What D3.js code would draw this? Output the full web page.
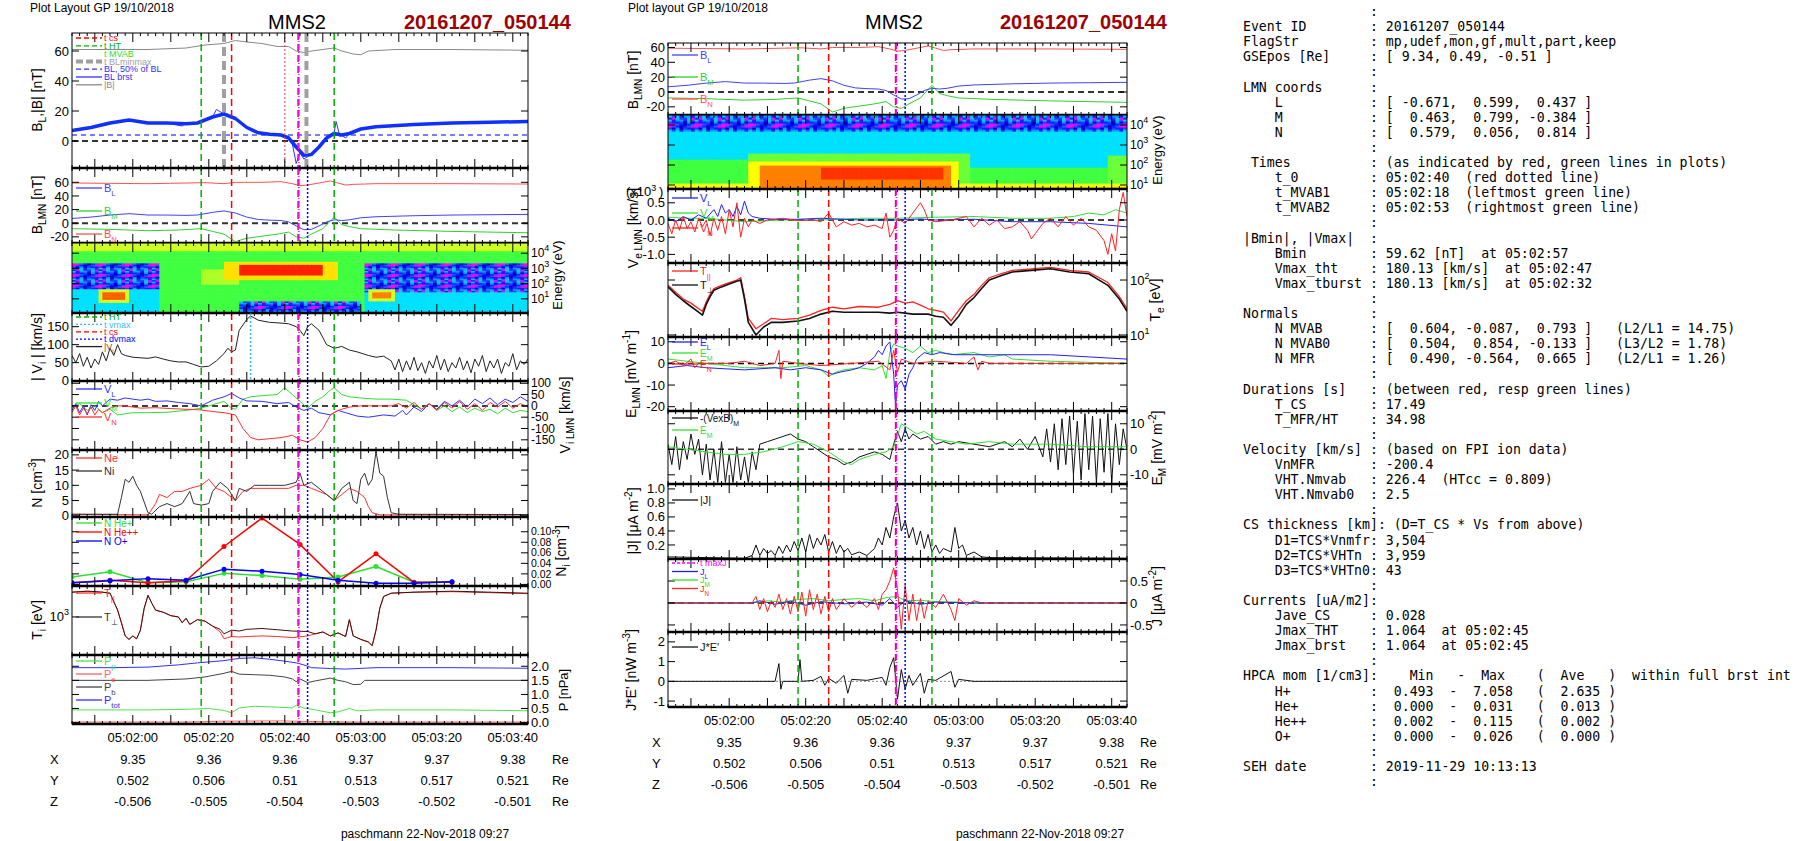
<!DOCTYPE html>
<html>
<head>
<meta charset="utf-8">
<script src="https://cdn.jsdelivr.net/npm/d3@7"></script>
<style>
  body { margin: 0; background: #fff; }
  svg text { font-family: "Liberation Sans", Arial, sans-serif; }
  .mono { font-family: "DejaVu Sans Mono", monospace; font-size: 13.2px; white-space: pre; }
</style>
</head>
<body>
<div id="chart"></div>
<script>
// ---- data (t = seconds after 05:01:44) ----
const timeTicks = [16, 36, 56, 76, 96, 116];
const timeLabels = ["05:02:00", "05:02:20", "05:02:40", "05:03:00", "05:03:20", "05:03:40"];
const posX = ["9.35", "9.36", "9.36", "9.37", "9.37", "9.38"];
const posY = ["0.502", "0.506", "0.51", "0.513", "0.517", "0.521"];
const posZ = ["-0.506", "-0.505", "-0.504", "-0.503", "-0.502", "-0.501"];

const tGreen = [34, 69], tRedDash = [42, 59.5], tRedDot = 56, tMagenta = 59.7, tBlueDot = 62, tGray = [40, 61.7], tVmax = 47;

const bL = [[0,7],[5,9],[10,12],[15,14],[20,12],[25,12],[30,11.5],[33,12],[37,16],[40,18],[43,15],[46,9],[49,5.5],[52,4.5],[55,4],[57,2],[59,-4],[61,-9.5],[63,-9],[65,-4],[67,2],[69,5],[71,4],[73,5],[76,8],[80,9.5],[90,11],[100,12],[110,12.5],[120,13]];
const bLbrst = [[0,7],[5,9],[10,12],[15,14],[20,12],[25,12],[29,10],[30,12],[33,12],[37,16],[38,21],[40,18],[43,15],[46,9],[49,5.5],[52,4.5],[55,4],[57,3],[58,-2],[59,-15],[60,-8],[61,-12],[63,-9],[65,-4],[67,3],[69,6],[69.5,13],[70.5,3],[71,4],[72,2],[73,5],[76,8],[80,9.5],[90,11],[100,12],[110,12.5],[120,13]];
const bMag = [[0,61],[10,61],[20,61],[30,62],[35,64],[40,65],[43,67],[46,66],[50,65],[54,63],[57,63],[59,60],[61,59],[63,60],[66,61],[69,62],[71,60],[74,58],[76,57.5],[78,60],[85,61],[100,61],[120,60.5]];
const bM = [[0,-8],[10,-9],[20,-11],[28,-10],[34,-8],[37,-12],[40,-16],[43,-27],[46,-22],[50,-19],[54,-16],[57,-13],[59,-20],[61,-22],[63,-16],[66,-8],[69,9],[71,-2],[73,-5],[76,-8],[85,-10],[100,-12],[120,-14]];
const bN = [[0,59],[10,58.5],[20,58],[30,59],[35,59.5],[40,58],[43,60],[50,60],[55,61],[58,58],[60,55],[62,56],[66,60],[68,62],[70,59],[72,56],[74,57],[80,58],[100,58],[120,57.5]];

const viMag = [[0,70],[1,50],[2,75],[3,40],[4,65],[5,35],[6,60],[7,45],[8,80],[9,55],[10,90],[11,70],[12,100],[13,75],[14,70],[16,65],[20,62],[22,66],[24,60],[26,55],[28,52],[30,52],[32,45],[34,38],[36,40],[38,55],[40,75],[41,90],[42,80],[43,85],[44,140],[46,170],[47,180],[49,168],[52,162],[55,160],[57,158],[59,150],[60,140],[61,125],[62,150],[63,158],[65,140],[67,100],[69,90],[71,95],[73,85],[75,80],[78,70],[80,65],[82,68],[84,55],[85,30],[86,60],[87,25],[88,55],[89,30],[90,65],[91,28],[92,50],[93,20],[94,55],[95,35],[96,70],[97,30],[98,60],[99,25],[100,50],[101,35],[102,65],[103,30],[104,55],[105,22],[106,60],[107,40],[108,70],[109,25],[110,55],[111,35],[112,60],[113,20],[114,50],[115,40],[116,75],[117,30],[118,55],[119,45],[120,60]];
const viL = [[0,-20],[1,10],[2,-30],[3,0],[4,-40],[5,5],[6,-20],[7,20],[8,0],[10,30],[12,25],[14,35],[16,30],[18,25],[20,30],[22,20],[25,22],[28,15],[31,10],[34,0],[37,25],[40,40],[42,55],[44,35],[46,22],[50,20],[54,10],[57,15],[59,-5],[61,-20],[63,-10],[65,-30],[68,-40],[70,-20],[72,-30],[75,-45],[78,-50],[82,-40],[85,-45],[87,-20],[88,-40],[90,-5],[92,-25],[94,10],[96,-15],[98,20],[100,0],[102,25],[104,-5],[106,30],[108,10],[110,35],[112,5],[114,30],[116,15],[118,40],[120,20]];
const viM = [[0,-10],[2,10],[4,-20],[6,0],[8,-30],[10,-15],[12,-40],[14,-35],[16,-30],[20,-30],[25,-28],[30,-20],[34,-10],[37,5],[40,20],[42,-10],[43,-15],[45,30],[47,40],[50,45],[54,50],[56,80],[58,50],[60,20],[62,-10],[64,20],[66,40],[68,70],[69,80],[71,50],[73,40],[76,35],[80,30],[84,30],[88,25],[90,5],[92,-15],[94,10],[96,-20],[98,0],[100,-25],[102,-5],[104,-30],[106,-10],[108,-25],[110,-15],[112,-35],[114,-10],[116,-30],[118,-20],[120,-25]];
const viN = [[0,-30],[1,0],[2,-40],[3,-10],[4,-35],[5,-5],[6,-40],[7,-15],[8,-30],[10,-10],[12,0],[14,0],[18,-10],[22,-8],[26,-12],[30,-15],[34,-18],[37,-25],[40,-30],[43,-40],[45,-100],[47,-140],[49,-150],[52,-145],[55,-140],[58,-130],[60,-150],[62,-160],[64,-140],[66,-100],[68,-40],[70,-20],[73,-5],[76,0],[80,0],[84,0],[86,10],[88,-10],[90,15],[92,-15],[94,10],[96,-20],[98,15],[100,-10],[102,20],[104,-15],[106,10],[108,-20],[110,15],[112,-5],[114,20],[116,-10],[118,10],[120,-5]];

const ni = [[0,0.5],[12,0.5],[13,6],[14,12],[15,11],[16,13],[17,10],[18,8],[20,1],[21,0.5],[23,3],[25,4],[27,3],[29,4],[31,8],[32,4],[34,3.5],[36,4],[37,8],[39,11],[41,9],[42,7],[43,5],[44,9],[46,8],[48,10],[52,10],[56,10],[59,11],[60,14],[61,10],[63,11],[65,9],[67,7],[69,5],[71,9],[73,11],[74,5],[75,4],[76,12],[77,14],[78,10],[79,12],[80,21],[81,14],[82,13],[83,6],[84,1],[86,0.5],[120,0.4]];
const ne = [[0,0.5],[20,0.3],[22,4],[23,7],[25,6],[27,8],[29,8],[31,9],[34,10],[36,12],[38,9],[40,8],[42,6],[43,5],[45,8],[47,9],[50,9],[54,9],[57,9],[59,10],[61,10],[63,9],[65,8],[67,7],[69,5],[71,7],[73,9],[75,8],[77,6],[78,3],[79,1],[81,0.3],[120,0.3]];

const ionT = [0, 10, 20, 30, 40, 50, 60, 70, 80, 90, 100];
const nHe1 = [0.014, 0.024, 0.003, 0.005, 0.021, 0.017, 0.010, 0.014, 0.034, 0.004, 0.005];
const nHe2 = [0.003, 0.008, 0.003, 0.007, 0.072, 0.126, 0.076, 0.005, 0.058, 0.004, 0.004];
const nOp  = [0.003, 0.007, 0.011, 0.008, 0.029, 0.025, 0.019, 0.008, 0.002, 0.002, 0.005];

const tiPerp = [[0,2600],[4,2700],[8,2600],[10,2500],[12,1300],[13,800],[14,480],[15,420],[16,480],[17,430],[18,600],[19,1400],[20,2300],[21,1700],[22,1300],[24,1200],[26,1050],[28,1000],[29,800],[30,950],[31,750],[33,900],[35,850],[37,700],[39,620],[40,520],[42,600],[44,580],[46,620],[50,640],[54,610],[58,580],[62,570],[64,520],[66,560],[68,480],[70,540],[72,470],[73,900],[74,480],[76,420],[78,380],[79,330],[80,600],[81,1400],[82,2200],[84,2500],[90,2600],[100,2700],[110,2600],[120,2500]];
const tiPar = [[0,2600],[4,2700],[8,2600],[10,2500],[12,1300],[13,800],[14,480],[15,420],[16,480],[17,430],[18,600],[19,1400],[20,2300],[21,1700],[22,1300],[24,1200],[26,1050],[28,1000],[29,800],[30,950],[31,750],[33,900],[35,850],[37,700],[39,560],[40,430],[42,470],[44,460],[46,470],[50,480],[54,470],[58,450],[62,480],[64,520],[66,560],[68,480],[70,540],[72,470],[73,900],[74,480],[76,420],[78,380],[79,330],[80,600],[81,1400],[82,2200],[84,2500],[90,2600],[100,2650],[110,2550],[120,2450]];

const pTot = [[0,1.95],[10,1.95],[20,1.97],[28,2.05],[33,2.12],[40,2.2],[44,2.28],[48,2.3],[52,2.25],[56,2.18],[59,2.12],[61,2.05],[63,1.95],[68,1.92],[72,1.9],[80,1.95],[100,1.95],[120,1.93]];
const pB = [[0,1.5],[10,1.5],[20,1.5],[30,1.55],[35,1.62],[40,1.75],[42,1.82],[44,1.72],[48,1.7],[52,1.68],[56,1.62],[58,1.55],[59,1.45],[60,1.55],[62,1.42],[64,1.48],[68,1.58],[70,1.5],[72,1.45],[74,1.35],[76,1.36],[77,1.5],[85,1.5],[120,1.5]];
const pP = [[0,0.45],[10,0.45],[20,0.45],[30,0.47],[36,0.5],[40,0.43],[42,0.35],[44,0.52],[48,0.58],[54,0.55],[58,0.52],[59,0.62],[61,0.52],[64,0.45],[68,0.35],[70,0.38],[73,0.5],[75,0.42],[80,0.45],[100,0.45],[120,0.42]];
const pE = [[0,0.02],[30,0.02],[40,0.05],[55,0.06],[62,0.04],[75,0.02],[120,0.02]];

const veL = [[0,0.05],[2,-0.05],[4,0.1],[6,0],[8,0.15],[10,0.05],[12,0.3],[13,0.1],[14,0.45],[15,0.2],[16,0.3],[17,0.1],[18,0.4],[19,0.15],[20,0.55],[21,0.2],[22,0.1],[24,0.05],[28,0.02],[34,0.02],[40,0.05],[50,0.0],[60,0.0],[66,0.03],[70,0.0],[80,0.02],[90,-0.05],[100,-0.05],[110,-0.1],[120,-0.2]];
const veM = [[0,0.08],[5,0.05],[10,0.05],[20,-0.05],[30,0.0],[40,0.0],[50,0.05],[60,0.05],[70,0.08],[80,0.1],[90,0.05],[100,0.05],[106,0.1],[110,0.2],[114,0.15],[117,0.3],[120,0.2]];
const veN = [[0,-0.1],[1,-0.4],[2,0.0],[3,-0.3],[4,0.1],[5,-0.25],[6,-0.05],[7,-0.35],[8,0.05],[9,-0.2],[10,0.0],[11,-0.45],[12,0.05],[13,-0.3],[14,0.1],[15,-0.4],[16,0.3],[17,-0.2],[18,0.5],[19,-0.5],[20,0.05],[21,-0.2],[22,0.0],[24,-0.1],[26,0.0],[30,0.05],[34,-0.02],[38,0.0],[40,-0.05],[42,0.2],[44,-0.2],[46,-0.05],[48,-0.15],[50,-0.1],[52,-0.2],[54,-0.15],[56,-0.25],[57,0.2],[58,-0.5],[59,-0.3],[60,0.05],[62,-0.1],[64,0.2],[65,0.35],[66,0.5],[67,0.3],[68,0.0],[70,-0.05],[74,0.0],[78,0.1],[80,-0.2],[82,0.05],[84,-0.15],[86,0.0],[88,-0.25],[90,-0.2],[92,-0.05],[94,-0.3],[95,-0.55],[96,-0.4],[98,-0.1],[100,0.05],[102,-0.2],[104,0.1],[106,-0.15],[108,0.05],[110,-0.2],[112,-0.3],[114,-0.6],[115,-1.0],[116,-0.4],[117,-0.9],[118,0.3],[119,0.8],[120,0.1]];

const tePar = [[0,80],[2,60],[4,45],[6,38],[8,30],[9,27],[10,40],[11,55],[12,70],[14,80],[16,90],[18,100],[19,110],[20,50],[21,20],[23,13],[25,16],[27,20],[30,19],[34,20],[37,23],[40,28],[43,32],[46,30],[50,33],[55,32],[58,36],[60,42],[62,38],[64,40],[66,35],[68,30],[70,28],[72,26],[74,18],[76,28],[78,42],[80,55],[82,80],[84,110],[87,130],[90,150],[95,160],[100,170],[105,150],[110,140],[115,90],[118,50],[120,30]];
const tePerp = [[0,75],[2,55],[4,42],[6,33],[8,26],[9,23],[10,36],[11,50],[12,65],[14,75],[16,85],[18,95],[19,100],[20,45],[21,17],[23,10],[25,14],[27,17],[30,17],[34,18],[37,20],[40,24],[43,27],[46,26],[50,26],[55,26],[58,25],[60,26],[62,25],[64,24],[66,24],[68,24],[70,22],[72,21],[74,15],[76,22],[78,36],[80,48],[82,70],[84,100],[87,120],[90,140],[95,150],[100,160],[105,140],[110,130],[115,80],[118,45],[120,27]];

const eL = [[0,-2],[5,-1],[10,-2],[20,-3],[28,-2],[32,-3],[36,-2],[40,-3],[43,-5],[45,-4],[48,-3],[50,-2],[52,0],[54,3],[55,6],[56,4],[57,8],[58,10],[59,-5],[59.5,-20],[60,-10],[61,-8],[62,-12],[63,-5],[64,-2],[65,2],[67,5],[69,4],[71,5],[75,4],[80,4],[90,4],[100,4],[110,3],[120,2]];
const eM = [[0,2],[5,1],[10,0],[20,-2],[30,-2],[36,-1],[40,-3],[42,-6],[44,-4],[46,-3],[50,-2],[54,-3],[56,-1],[57,-7],[58,5],[59,9],[60,8],[62,7],[64,5],[66,8],[68,5],[70,6],[74,4],[80,5],[84,3],[88,4],[90,2],[100,1],[110,0.5],[120,0]];
const eN = [[0,0],[2,1],[4,-1],[6,2],[7,-2],[8,0],[16,0],[20,1],[24,-1],[28,0],[29,6],[29.5,-7],[30,1],[34,0],[40,-1],[48,0],[55,1],[58,-3],[59,6],[60,-4],[61,2],[64,0],[70,1],[78,0],[80,3],[81,-3],[82,1],[84,0],[120,0]];

const vexbM = [[0,2],[1,-6],[2,5],[3,-8],[4,3],[5,-4],[6,6],[7,-2],[8,4],[9,-10],[10,2],[11,-12],[12,0],[13,-13],[14,3],[15,-13],[16,-2],[17,-13],[18,1],[19,-12],[20,-3],[21,-13],[22,-1],[23,-8],[24,2],[26,3],[28,4],[30,5],[32,6],[34,4],[36,3],[38,1],[40,-1],[42,-3],[44,-4],[46,-6],[48,-5],[50,-3],[52,-2],[54,-1],[56,-2],[58,-4],[59,2],[60,7],[61,3],[62,8],[63,4],[64,6],[66,4],[68,5],[70,2],[72,3],[74,2],[76,3],[80,2],[84,1],[88,3],[90,1],[92,4],[94,0],[96,5],[98,-3],[99,8],[100,-5],[101,10],[102,-8],[103,12],[104,-6],[105,13],[106,-10],[107,11],[108,-12],[109,14],[110,-8],[111,13],[112,-13],[113,12],[114,-9],[115,14],[116,-13],[117,10],[118,-6],[119,8],[120,0]];
const eMs = [[0,1],[5,0],[10,-1],[15,-2],[20,-2],[25,-1],[30,1],[34,3],[38,2],[42,-1],[46,-5],[48,-6],[50,-4],[54,-2],[57,-1],[59,1],[61,10],[63,8],[65,6],[67,7],[70,4],[74,3],[78,2],[84,3],[90,2],[100,2],[110,1],[120,1]];

const jMag = [[0,0.03],[10,0.02],[20,0.01],[22,0.05],[23,0.2],[24,0.05],[25,0.15],[26,0.08],[27,0.12],[28,0.05],[29,0.18],[30,0.08],[31,0.2],[32,0.1],[33,0.25],[34,0.12],[35,0.3],[36,0.1],[37,0.35],[38,0.15],[39,0.3],[40,0.2],[41,0.35],[42,0.1],[43,0.25],[44,0.08],[45,0.2],[46,0.1],[47,0.15],[48,0.06],[50,0.1],[52,0.05],[54,0.15],[55,0.3],[56,0.2],[57,0.45],[58,0.3],[59,0.6],[60,0.8],[61,0.4],[62,0.55],[63,0.3],[64,0.45],[65,0.2],[66,0.4],[67,0.15],[68,0.35],[69,0.1],[70,0.2],[71,0.08],[72,0.15],[74,0.1],[75,0.45],[76,0.15],[77,0.2],[78,0.05],[80,0.1],[82,0.03],[84,0.02],[120,0.01]];
const jL = [[0,0],[22,0],[24,0.05],[28,-0.03],[32,0.04],[36,-0.05],[40,0.03],[46,-0.02],[52,0.02],[56,-0.05],[58,0.1],[60,-0.1],[62,0.05],[66,-0.03],[70,0.02],[80,0],[120,0]];
const jM = [[0,0],[22,0],[26,0.05],[30,0.02],[34,0.08],[38,0.1],[42,0.05],[46,0.08],[50,0.1],[54,0.05],[57,0.12],[60,0.15],[62,0.05],[66,0.06],[70,0.03],[76,0.02],[80,0],[120,0]];
const jN = [[0,0],[22,0],[23,0.15],[24,-0.15],[25,0.1],[26,-0.2],[27,0.05],[28,-0.1],[29,0.2],[30,-0.15],[31,0.1],[32,-0.25],[33,0.15],[34,-0.2],[35,0.25],[36,-0.3],[37,0.3],[38,-0.15],[39,0.2],[40,-0.25],[41,0.15],[42,-0.2],[43,0.1],[44,-0.15],[46,0.1],[48,-0.1],[50,0.05],[52,-0.1],[54,0.1],[55,-0.15],[56,0.2],[57,0.3],[58,0.5],[59,0.8],[60,0.3],[61,-0.6],[62,0.4],[63,-0.4],[64,0.2],[65,-0.4],[66,0.1],[67,-0.35],[68,0.05],[70,-0.1],[72,0.2],[74,-0.15],[75,-0.4],[76,0.1],[78,-0.05],[80,0.05],[82,0],[120,0]];

const jE = [[0,0],[28,0],[29,0.9],[29.5,-0.4],[30,0],[34,0],[34.5,1.1],[35,0],[38,0.05],[40,0.25],[41,-0.2],[42,0.15],[44,-0.1],[46,0.3],[47,-0.6],[48,0.1],[52,0.05],[56,0.2],[57,-0.2],[58,0.7],[59,1.2],[60,-0.9],[61,0.6],[62,-0.4],[63,0.3],[64,-0.2],[66,0.4],[67,-0.6],[68,0.1],[70,0.05],[74,0.5],[75,-0.3],[76,0.1],[80,0],[120,0]];

// spectrogram blocks: [t start, t end, log10(E) low, log10(E) high, level 0..1]; later blocks paint over earlier ones
const ionSpec = [[0,120,0.07,4.67,0.45],[0,120,4.2,4.67,0.62],[0,23,0.07,1.7,0.3],[77,120,0.07,1.5,0.3],
  [0,23,1.7,3.4,0.12],[77,120,1.5,3.4,0.12],[7,15,0.8,1.7,0.62],[8,14,1.0,1.45,0.9],[78,85,0.9,1.7,0.62],[79,84,1.1,1.45,0.85],
  [34,44,2.0,3.0,0.58],[40,70,2.3,3.5,0.72],[44,66,2.6,3.3,1.0],[44,76,0.07,0.9,0.12]];
const eleSpec = [[0,120,0.8,4.5,0.3],[0,120,3.7,4.5,0.12],[0,21,1.1,2.3,0.45],[79,115,1.1,1.9,0.45],[115,120,0.8,2.5,0.5],
  [0,120,0.8,1.1,0.66],[0,120,0.8,0.9,0.85],[21,79,1.1,2.6,0.5],[21,76,0.8,2.2,0.68],[24,74,0.8,2.0,0.85],[40,72,1.3,1.9,0.97]];

const infoLines = [
  ["", ""], ["Event ID", "20161207_050144"], ["FlagStr", "mp,udef,mon,gf,mult,part,keep"],
  ["GSEpos [Re]", "[ 9.34, 0.49, -0.51 ]"], ["", ""], ["LMN coords", ""],
  ["    L", "[ -0.671,  0.599,  0.437 ]"], ["    M", "[  0.463,  0.799, -0.384 ]"], ["    N", "[  0.579,  0.056,  0.814 ]"], ["", ""],
  [" Times", "(as indicated by red, green lines in plots)"], ["    t_0", "05:02:40  (red dotted line)"],
  ["    t_MVAB1", "05:02:18  (leftmost green line)"], ["    t_MVAB2", "05:02:53  (rightmost green line)"], ["", ""],
  ["|Bmin|, |Vmax|", ""], ["    Bmin", "59.62 [nT]  at 05:02:57"], ["    Vmax_tht", "180.13 [km/s]  at 05:02:47"],
  ["    Vmax_tburst", "180.13 [km/s]  at 05:02:32"], ["", ""], ["Normals", ""],
  ["    N MVAB", "[  0.604, -0.087,  0.793 ]   (L2/L1 = 14.75)"], ["    N MVAB0", "[  0.504,  0.854, -0.133 ]   (L3/L2 = 1.78)"],
  ["    N MFR", "[  0.490, -0.564,  0.665 ]   (L2/L1 = 1.26)"], ["", ""],
  ["Durations [s]", "(between red, resp green lines)"], ["    T_CS", "17.49"], ["    T_MFR/HT", "34.98"], ["", ""],
  ["Velocity [km/s]", "(based on FPI ion data)"], ["    VnMFR", "-200.4"], ["    VHT.Nmvab", "226.4  (HTcc = 0.809)"], ["    VHT.Nmvab0", "2.5"], ["", ""],
  ["CS thickness [km]", "(D=T_CS * Vs from above)"], ["    D1=TCS*Vnmfr", "3,504"], ["    D2=TCS*VHTn", "3,959"], ["    D3=TCS*VHTn0", "43"], ["", ""],
  ["Currents [uA/m2]", ""], ["    Jave_CS", "0.028"], ["    Jmax_THT", "1.064  at 05:02:45"], ["    Jmax_brst", "1.064  at 05:02:45"], ["", ""],
  ["HPCA mom [1/cm3]", "   Min   -  Max    (  Ave   )  within full brst int"],
  ["    H+", " 0.493  -  7.058   (  2.635 )"], ["    He+", " 0.000  -  0.031   (  0.013 )"], ["    He++", " 0.002  -  0.115   (  0.002 )"], ["    O+", " 0.000  -  0.026   (  0.000 )"], ["", ""],
  ["SEH date", "2019-11-29 10:13:13"], ["", ""]
];

// ---- drawing ----
const W = 1804, H = 841;
const svg = d3.select("#chart").append("svg").attr("width", W).attr("height", H);
const GREEN = "#00b000", LIME = "#30e030";

function panel(o) {
  const x = d3.scaleLinear().domain([0, 120]).range([o.x0, o.x1]);
  const y = (o.log ? d3.scaleLog() : d3.scaleLinear()).domain(o.dom).range([o.y1, o.y0]);
  const g = svg.append("g");
  const clip = "c" + Math.round(o.x0) + "_" + Math.round(o.y0);
  svg.append("clipPath").attr("id", clip).append("rect")
    .attr("x", o.x0).attr("y", o.y0).attr("width", o.x1 - o.x0).attr("height", o.y1 - o.y0);
  const inner = g.append("g").attr("clip-path", `url(#${clip})`);
  return { x, y, g, inner, o };
}

function frame(p) {
  const { x, y, g, o } = p;
  const fs = o.fs || 13;
  d3.range(0, 121, 2).forEach(t => {
    const len = (t - 16) % 10 === 0 ? 9 : 3;
    g.append("line").attr("x1", x(t)).attr("x2", x(t)).attr("y1", o.y1).attr("y2", o.y1 - len).attr("stroke", "#000");
    g.append("line").attr("x1", x(t)).attr("x2", x(t)).attr("y1", o.y0).attr("y2", o.y0 + len).attr("stroke", "#000");
  });
  const yt = (vals, side, labels) => {
    if (!vals) return;
    vals.forEach((v, i) => {
      const xx = side === "l" ? o.x0 : o.x1, d = side === "l" ? 1 : -1;
      g.append("line").attr("x1", xx).attr("x2", xx + d * 7).attr("y1", y(v)).attr("y2", y(v)).attr("stroke", "#000");
      if (labels) {
        const tx = g.append("text").attr("x", side === "l" ? o.x0 - 3 : o.x1 + 3).attr("y", y(v) + fs * 0.35)
          .attr("text-anchor", side === "l" ? "end" : "start").attr("font-size", fs);
        const lab = labels[i];
        if (typeof lab === "object") { tx.text(lab[0]); tx.append("tspan").attr("dy", -6).attr("font-size", 9).text(lab[1]); }
        else tx.text(lab);
      }
    });
  };
  yt(o.lt, "l", o.ltl); yt(o.rt, "r", o.rtl);
  yt(o.lt && !o.rt ? o.lt : null, "r", null);
  yt(o.rt && !o.lt ? o.rt : null, "l", null);
  g.append("rect").attr("x", o.x0).attr("y", o.y0).attr("width", o.x1 - o.x0).attr("height", o.y1 - o.y0)
    .attr("fill", "none").attr("stroke", "#000").attr("stroke-width", 1);
  g.append("line").attr("x1", o.x0).attr("x2", o.x1).attr("y1", o.y1).attr("y2", o.y1).attr("stroke", "#000").attr("stroke-width", 2.5);
}

function series(p, data, color, w = 1) {
  p.inner.append("path").datum(data)
    .attr("d", d3.line().x(d => p.x(d[0])).y(d => p.y(d[1])))
    .attr("fill", "none").attr("stroke", color).attr("stroke-width", w).attr("stroke-linejoin", "round");
}
function hline(p, v, color, dash = "5,4", w = 1.3) {
  p.inner.append("line").attr("x1", p.o.x0).attr("x2", p.o.x1).attr("y1", p.y(v)).attr("y2", p.y(v))
    .attr("stroke", color).attr("stroke-dasharray", dash).attr("stroke-width", w);
}
function vline(p, t, color, dash, w = 1.5) {
  p.inner.append("line").attr("x1", p.x(t)).attr("x2", p.x(t)).attr("y1", p.o.y0).attr("y2", p.o.y1)
    .attr("stroke", color).attr("stroke-dasharray", dash).attr("stroke-width", w);
}
function marks(p, opts = {}) {
  tGreen.forEach(t => vline(p, t, GREEN, "7,4"));
  tRedDash.forEach(t => vline(p, t, "#ff0000", "7,4"));
  vline(p, tMagenta, "#ff00ff", "6,2,1,2");
  if (opts.blue !== false) vline(p, tBlueDot, "#0000ff", "2,2");
}
function legend(p, items, x0, y0, dy = 13, fs = 12) {
  items.forEach((it, i) => {
    const yy = y0 + i * dy;
    if (it.c) p.g.append("line").attr("x1", x0).attr("x2", x0 + 26).attr("y1", yy).attr("y2", yy)
      .attr("stroke", it.c).attr("stroke-width", it.w || 1.3).attr("stroke-dasharray", it.d || null);
    const tx = p.g.append("text").attr("x", x0 + 28).attr("y", yy + fs * 0.35).attr("font-size", fs).attr("fill", it.tc || it.c);
    tx.text(it.t);
    if (it.s) tx.append("tspan").attr("dy", 4).attr("font-size", fs * 0.7).text(it.s);
  });
}
function ylabel(x, y, parts, size = 14) {
  const t = svg.append("text").attr("transform", `translate(${x},${y}) rotate(-90)`).attr("text-anchor", "middle").attr("font-size", size);
  parts.forEach(pt => {
    if (pt[1] === "sub") t.append("tspan").attr("dy", 4).attr("font-size", size * 0.72).text(pt[0]);
    else if (pt[1] === "sup") t.append("tspan").attr("dy", -6).attr("font-size", size * 0.72).text(pt[0]);
    else t.append("tspan").attr("dy", pt[2] || 0).text(pt[0]);
  });
}
const specColor = d3.scaleLinear().domain([0.1, 0.3, 0.45, 0.62, 0.68, 0.85, 1])
  .range(["#1020ff", "#00e0ff", "#40ff40", "#d0ff20", "#ffff00", "#ff8000", "#ff2000"]).clamp(true);
const speckle = ["#1020ff", "#00a0ff", "#3050ff", "#ff00ff", "#0000d0", "#10c0ff", "#2040ff"];
function spectro(p, blocks, lo, hi) {
  const rows = d3.range(lo, hi, 0.1);
  for (let t = 0; t < 120; t += 1) {
    rows.forEach((e, j) => {
      let v = 0;
      blocks.forEach(b => { if (t >= b[0] && t < b[1] && e + 0.05 >= b[2] && e + 0.05 < b[3]) v = b[4]; });
      const col = v < 0.2 ? speckle[(t * t * 3 + j * j * 5 + t * j) % 7] : specColor(v);
      p.inner.append("rect").attr("x", p.x(t)).attr("width", p.x(t + 1) - p.x(t) + 0.6)
        .attr("y", p.y(e + 0.1)).attr("height", p.y(e) - p.y(e + 0.1) + 0.6).attr("fill", col);
    });
  }
}
function timeAxis(x0, x1, yLab, yX, xX, xRe) {
  const x = d3.scaleLinear().domain([0, 120]).range([x0, x1]);
  timeTicks.forEach((t, i) => {
    svg.append("text").attr("x", x(t)).attr("y", yLab).attr("text-anchor", "middle").attr("font-size", 13).text(timeLabels[i]);
    [posX, posY, posZ].forEach((arr, k) => svg.append("text").attr("x", x(t)).attr("y", yX + k * 21).attr("text-anchor", "middle").attr("font-size", 13).text(arr[i]));
  });
  ["X", "Y", "Z"].forEach((s, k) => {
    svg.append("text").attr("x", xX).attr("y", yX + k * 21).attr("font-size", 13).text(s);
    svg.append("text").attr("x", xRe).attr("y", yX + k * 21).attr("font-size", 13).text("Re");
  });
}

// ===== LEFT PLOT =====
const LX0 = 72, LX1 = 528;
svg.append("text").attr("x", 30).attr("y", 12).attr("font-size", 12).text("Plot Layout GP 19/10/2018");
svg.append("text").attr("x", 297).attr("y", 29).attr("text-anchor", "middle").attr("font-size", 20).text("MMS2");
svg.append("text").attr("x", 404).attr("y", 29).attr("font-size", 20).attr("font-weight", "bold").attr("fill", "#a00000").text("20161207_050144");

let p = panel({ x0: LX0, x1: LX1, y0: 33, y1: 168, dom: [-18, 72], lt: [0, 20, 40, 60], ltl: ["0", "20", "40", "60"] });
hline(p, 4, "#5050ff"); hline(p, 0, "#333", "6,4", 2);
series(p, bMag, "#888"); series(p, bLbrst, "#3030ff", 1); series(p, bL, "#1030ff", 3.5);
marks(p, { blue: false }); vline(p, tRedDot, "#ff4040", "2,2", 1);
tGray.forEach(t => vline(p, t, "#a0a0a0", "9,5", 4));
frame(p);
legend(p, [{ t: "t  cs", c: "#ff0000", d: "5,3" }, { t: "t  HT", c: GREEN, d: "5,3" }, { t: "t  MVAB", tc: LIME }, { t: "t  BLminmax", c: "#a0a0a0", d: "7,3", w: 4 },
  { t: "BL, 50% of BL", c: "#3030ff", d: "5,3" }, { t: "BL  brst", c: "#3030ff" }, { t: "|B|", c: "#888" }], LX0 + 4, 38, 7.8, 9);
ylabel(42, 100, [["B"], ["L", "sub"], [",|B| [nT]", "", -4]]);

p = panel({ x0: LX0, x1: LX1, y0: 168, y1: 243, dom: [-29, 81], lt: [-20, 0, 20, 40, 60], ltl: ["-20", "0", "20", "40", "60"] });
hline(p, 0, "#333", "6,4", 2);
series(p, bN, "#ff5050"); series(p, bM, "#30d030"); series(p, bL, "#4040ff");
marks(p); frame(p);
legend(p, [{ t: "B", s: "L", c: "#4040ff" }, { t: "B", s: "M", c: "#30d030" }, { t: "B", s: "N", c: "#ff5050" }], LX0 + 4, 188, 23, 11);
ylabel(42, 205, [["B"], ["LMN", "sub"], [" [nT]", "", -4]]);

p = panel({ x0: LX0, x1: LX1, y0: 243, y1: 313, dom: [0.07, 4.67], fs: 12, rt: [1, 2, 3, 4], rtl: [["10", "1"], ["10", "2"], ["10", "3"], ["10", "4"]] });
spectro(p, ionSpec, 0.07, 4.67); frame(p);
ylabel(562, 275, [["Energy (eV)"]], 13);

p = panel({ x0: LX0, x1: LX1, y0: 313, y1: 381, dom: [-1, 188], lt: [0, 50, 100, 150], ltl: ["0", "50", "100", "150"] });
series(p, viMag, "#222"); marks(p); vline(p, tVmax, "#30c0ff", "2,2");
frame(p);
legend(p, [{ t: "t  HT", c: GREEN, d: "5,3" }, { t: "t  vmax", c: "#30c0ff", d: "2,2" }, { t: "t  cs", c: "#ff0000", d: "5,3" }, { t: "t  dvmax", c: "#0000ff", d: "2,2" }, { t: "|V", s: "i", c: "#222", tc: "#805020" }], LX0 + 4, 317, 7.4, 9);
ylabel(42, 347, [["| V"], ["i", "sub"], [" | [km/s]", "", -4]]);

p = panel({ x0: LX0, x1: LX1, y0: 381, y1: 450, dom: [-195, 110], fs: 12, rt: [-150, -100, -50, 0, 50, 100], rtl: ["-150", "-100", "-50", "0", "50", "100"] });
hline(p, 0, "#000", "6,4", 1.5);
series(p, viM, "#30e030"); series(p, viL, "#3030ff"); series(p, viN, "#ff3030");
marks(p); frame(p);
legend(p, [{ t: "V", s: "L", c: "#3030ff" }, { t: "V", s: "M", c: "#30e030" }, { t: "V", s: "N", c: "#ff3030" }], LX0 + 4, 389, 14, 11);
ylabel(570, 415, [["V"], ["i LMN", "sub"], [" [km/s]", "", -4]]);

p = panel({ x0: LX0, x1: LX1, y0: 450, y1: 517, dom: [-0.4, 21.6], lt: [0, 5, 10, 15, 20], ltl: ["0", "5", "10", "15", "20"] });
series(p, ne, "#ff3030"); series(p, ni, "#333");
marks(p); frame(p);
legend(p, [{ t: "Ne", c: "#ff3030" }, { t: "Ni", c: "#333" }], LX0 + 4, 458, 13, 11);
ylabel(42, 483, [["N [cm"], ["-3", "sup"], ["]", "", 6]]);

p = panel({ x0: LX0, x1: LX1, y0: 517, y1: 586, dom: [-0.003, 0.128], fs: 10.5, rt: [0, 0.02, 0.04, 0.06, 0.08, 0.10], rtl: ["0.00", "0.02", "0.04", "0.06", "0.08", "0.10"] });
[[nHe1, "#30e030"], [nHe2, "#ff0000"], [nOp, "#0000ff"]].forEach(([arr, c]) => {
  const pts = ionT.map((t, i) => [t, arr[i]]);
  series(p, pts, c, 1.5);
  p.inner.selectAll(null).data(pts).enter().append("circle").attr("cx", d => p.x(d[0])).attr("cy", d => p.y(d[1])).attr("r", 2.5).attr("fill", c);
});
marks(p); frame(p);
legend(p, [{ t: "N  He+", c: "#30e030", tc: "#30e030" }, { t: "N  He++", c: "#ff0000" }, { t: "N  O+", c: "#0000ff" }], LX0 + 4, 523, 9, 10);
ylabel(566, 551, [["N"], ["i", "sub"], [" [cm", "", -4], ["-3", "sup"], ["]", "", 6]]);

p = panel({ x0: LX0, x1: LX1, y0: 586, y1: 655, dom: [230, 3300], log: true, lt: [1000], ltl: [["10", "3"]] });
series(p, tiPar, "#ff3030"); series(p, tiPerp, "#401010");
marks(p); frame(p);
legend(p, [{ t: "T", s: "||", c: "#ff3030" }, { t: "T", s: "⊥", c: "#333" }], LX0 + 4, 593, 24, 11);
ylabel(42, 620, [["T"], ["i", "sub"], [" [eV]", "", -4]]);

p = panel({ x0: LX0, x1: LX1, y0: 655, y1: 724, dom: [-0.05, 2.4], rt: [0, 0.5, 1, 1.5, 2], rtl: ["0.0", "0.5", "1.0", "1.5", "2.0"] });
series(p, pE, "#ff6060"); series(p, pP, "#50e050"); series(p, pB, "#444"); series(p, pTot, "#3030ff");
marks(p); frame(p);
legend(p, [{ t: "P", s: "p", c: "#50e050" }, { t: "P", s: "e", c: "#ff6060" }, { t: "P", s: "b", c: "#444" }, { t: "P", s: "tot", c: "#3030ff" }], LX0 + 4, 661, 13, 11);
ylabel(568, 690, [["P [nPa]"]], 13);
timeAxis(LX0, LX1, 742, 764, 50, 552);
svg.append("text").attr("x", 425).attr("y", 838).attr("text-anchor", "middle").attr("font-size", 12).text("paschmann 22-Nov-2018 09:27");

// ===== MIDDLE PLOT =====
const MX0 = 668, MX1 = 1127;
svg.append("text").attr("x", 628).attr("y", 12).attr("font-size", 12).text("Plot layout GP 19/10/2018");
svg.append("text").attr("x", 894).attr("y", 29).attr("text-anchor", "middle").attr("font-size", 20).text("MMS2");
svg.append("text").attr("x", 1000).attr("y", 29).attr("font-size", 20).attr("font-weight", "bold").attr("fill", "#a00000").text("20161207_050144");

p = panel({ x0: MX0, x1: MX1, y0: 43, y1: 115, dom: [-31, 66], lt: [-20, 0, 20, 40, 60], ltl: ["-20", "0", "20", "40", "60"] });
hline(p, 0, "#333", "6,4", 2);
series(p, bN, "#ff5050"); series(p, bM, "#30d030"); series(p, bL, "#4040ff");
marks(p); frame(p);
legend(p, [{ t: "B", s: "L", c: "#4040ff" }, { t: "B", s: "M", c: "#30d030" }, { t: "B", s: "N", c: "#ff5050" }], MX0 + 4, 55, 22, 11);
ylabel(638, 80, [["B"], ["LMN", "sub"], [" [nT]", "", -4]]);

p = panel({ x0: MX0, x1: MX1, y0: 115, y1: 189, dom: [0.8, 4.5], fs: 12, rt: [1, 2, 3, 4], rtl: [["10", "1"], ["10", "2"], ["10", "3"], ["10", "4"]] });
spectro(p, eleSpec, 0.8, 4.5); frame(p);
ylabel(1162, 150, [["Energy (eV)"]], 13);

p = panel({ x0: MX0, x1: MX1, y0: 189, y1: 263, dom: [-1.25, 0.9], lt: [-1, -0.5, 0, 0.5], ltl: ["-1.0", "-0.5", "0.0", "0.5"] });
hline(p, 0, "#000", "6,4", 1.5);
series(p, veM, "#30e030"); series(p, veL, "#2020ff"); series(p, veN, "#ff2020");
marks(p); frame(p);
legend(p, [{ t: "V", s: "L", c: "#2020ff" }, { t: "V", s: "M", c: "#30e030" }, { t: "V", s: "N", c: "#ff2020" }], MX0 + 4, 198, 15, 11);
svg.append("text").attr("x", 626).attr("y", 196).attr("font-size", 13).text("(x10").append("tspan").attr("dy", -5).attr("font-size", 9).text("3");
svg.append("text").attr("x", 659).attr("y", 196).attr("font-size", 13).text(")");
ylabel(638, 228, [["V"], ["e LMN", "sub"], [" [km/s]", "", -4]]);

p = panel({ x0: MX0, x1: MX1, y0: 263, y1: 337, dom: [9.2, 204], log: true, rt: [10, 100], rtl: [["10", "1"], ["10", "2"]] });
series(p, tePar, "#ff2020", 1.3); series(p, tePerp, "#111", 1.6);
marks(p); frame(p);
legend(p, [{ t: "T", s: "||", c: "#ff2020" }, { t: "T", s: "⊥", c: "#111" }], MX0 + 4, 271, 14, 11);
ylabel(1160, 300, [["T"], ["e", "sub"], [" [eV]", "", -4]]);

p = panel({ x0: MX0, x1: MX1, y0: 337, y1: 411, dom: [-22, 12.2], lt: [-20, -10, 0, 10], ltl: ["-20", "-10", "0", "10"] });
hline(p, 0, "#000", "6,4", 1.5);
series(p, eM, "#30e030"); series(p, eL, "#2020ff"); series(p, eN, "#ff2020");
marks(p); frame(p);
legend(p, [{ t: "E", s: "L", c: "#2020ff" }, { t: "E", s: "M", c: "#30e030" }, { t: "E", s: "N", c: "#ff2020" }], MX0 + 4, 342, 11, 10);
ylabel(636, 374, [["E"], ["LMN", "sub"], ["  [mV m", "", -4], ["-1", "sup"], ["]", "", 6]]);

p = panel({ x0: MX0, x1: MX1, y0: 411, y1: 484, dom: [-13.6, 15], rt: [-10, 0, 10], rtl: ["-10", "0", "10"] });
hline(p, 0, "#333", "6,4", 1.5);
series(p, vexbM, "#111"); series(p, eMs, "#30e030");
marks(p); frame(p);
legend(p, [{ t: "-(VexB)", s: "M", c: "#111" }, { t: "E", s: "M", c: "#30e030" }], MX0 + 4, 418, 12, 10);
ylabel(1162, 448, [["E"], ["M", "sub"], [" [mV m", "", -4], ["-2", "sup"], ["]", "", 6]]);

p = panel({ x0: MX0, x1: MX1, y0: 484, y1: 559, dom: [0, 1.07], lt: [0.2, 0.4, 0.6, 0.8, 1.0], ltl: ["0.2", "0.4", "0.6", "0.8", "1.0"] });
series(p, jMag, "#111"); marks(p); frame(p);
legend(p, [{ t: "|J|", c: "#111" }], MX0 + 4, 500, 12, 11);
ylabel(638, 521, [["|J| [μA m"], ["-2", "sup"], ["]", "", 6]]);

p = panel({ x0: MX0, x1: MX1, y0: 559, y1: 632, dom: [-0.66, 1.0], rt: [-0.5, 0, 0.5], rtl: ["-0.5", "0", "0.5"] });
hline(p, 0, "#000", "6,4", 1.5);
series(p, jM, "#30e030"); series(p, jL, "#2020ff"); series(p, jN, "#ff2020");
marks(p); frame(p);
legend(p, [{ t: "t  maxJ", c: "#ff00ff", d: "3,2" }, { t: "J", s: "L", c: "#2020ff" }, { t: "J", s: "M", c: "#30e030" }, { t: "J", s: "N", c: "#ff2020" }], MX0 + 4, 563, 8.5, 9);
ylabel(1162, 596, [["J [μA m"], ["-2", "sup"], ["]", "", 6]]);

p = panel({ x0: MX0, x1: MX1, y0: 632, y1: 707, dom: [-1.3, 2.5], lt: [-1, 0, 1, 2], ltl: ["-1", "0", "1", "2"] });
hline(p, 0, "#888", "2,2", 1);
series(p, jE, "#111"); marks(p); frame(p);
legend(p, [{ t: "J*E'", c: "#111" }], MX0 + 4, 647, 12, 11);
ylabel(636, 670, [["J*E' [nW m"], ["-3", "sup"], ["]", "", 6]]);
timeAxis(MX0, MX1, 725, 747, 652, 1140);
svg.append("text").attr("x", 1040).attr("y", 838).attr("text-anchor", "middle").attr("font-size", 12).text("paschmann 22-Nov-2018 09:27");

// ===== INFO TEXT =====
const info = svg.append("text").attr("class", "mono").attr("x", 1235).attr("y", 16);
infoLines.forEach((ln, i) => {
  const s = (" " + ln[0]).padEnd(17, " ") + ": " + ln[1];
  info.append("tspan").attr("x", 1235).attr("y", 16 + i * 15.1).text(s);
});
</script>
</body>
</html>
